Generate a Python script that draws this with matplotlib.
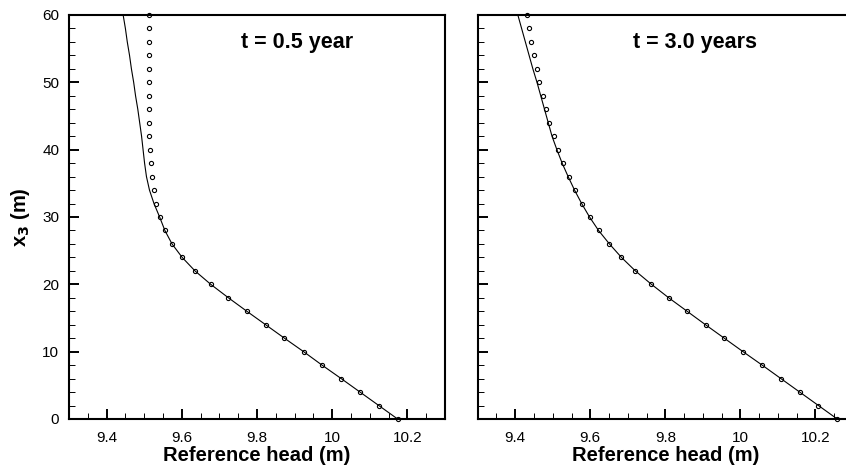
import numpy as np
import matplotlib
matplotlib.use('Agg')
import matplotlib.pyplot as plt
from matplotlib.ticker import MultipleLocator

plt.rcParams['font.family'] = ['Liberation Sans', 'DejaVu Sans']

# depth x3 (m), shared by all series
depth = np.arange(0, 62, 2)

# t = 0.5 year
circ_05 = [10.174, 10.124, 10.074, 10.024, 9.973, 9.924, 9.873, 9.823, 9.773, 9.724,
           9.677, 9.635, 9.601, 9.574, 9.554, 9.541, 9.532, 9.525, 9.521, 9.518,
           9.516, 9.514, 9.514, 9.514, 9.514, 9.514, 9.514, 9.514, 9.514, 9.514, 9.514]
line_05 = [10.174, 10.124, 10.074, 10.024, 9.973, 9.924, 9.873, 9.823, 9.773, 9.724,
           9.677, 9.635, 9.601, 9.574, 9.555, 9.541, 9.526, 9.514, 9.506, 9.501,
           9.497, 9.493, 9.488, 9.483, 9.477, 9.472, 9.466, 9.461, 9.455, 9.450, 9.444]

# t = 3.0 years
circ_30 = [10.258, 10.208, 10.158, 10.108, 10.058, 10.007, 9.957, 9.907, 9.858, 9.809,
           9.763, 9.720, 9.683, 9.651, 9.622, 9.598, 9.577, 9.558, 9.542, 9.527,
           9.514, 9.502, 9.491, 9.482, 9.473, 9.464, 9.457, 9.450, 9.443, 9.437, 9.431]
line_30 = [10.258, 10.208, 10.158, 10.108, 10.058, 10.007, 9.957, 9.907, 9.858, 9.809,
           9.763, 9.720, 9.683, 9.651, 9.622, 9.598, 9.577, 9.558, 9.541, 9.525,
           9.511, 9.498, 9.488, 9.478, 9.468, 9.458, 9.447, 9.437, 9.427, 9.417, 9.407]

panels = [
    (circ_05, line_05, 't = 0.5 year'),
    (circ_30, line_30, 't = 3.0 years'),
]

fig = plt.figure(figsize=(8.46, 4.72), dpi=100)
W, H = 846, 472
boxes = [(69, 445), (477.7, 853)]
y_bot, y_top = 419, 15

for i, ((circ, line, title), (x0, x1)) in enumerate(zip(panels, boxes)):
    ax = fig.add_axes([x0 / W, (H - y_bot) / H, (x1 - x0) / W, (y_bot - y_top) / H])
    ax.plot(line, depth, color='black', lw=0.8, zorder=2)
    ax.plot(circ, depth, linestyle='none', marker='o', ms=3.0, mfc='none',
            mec='black', mew=0.8, zorder=3, clip_on=False)
    ax.set_xlim(9.3, 10.3)
    ax.set_ylim(0, 60)
    ax.xaxis.set_minor_locator(MultipleLocator(0.05))
    ax.yaxis.set_major_locator(MultipleLocator(10))
    ax.yaxis.set_minor_locator(MultipleLocator(2))
    ax.set_xticks([9.4, 9.6, 9.8, 10.0, 10.2])
    ax.set_xticklabels(['9.4', '9.6', '9.8', '10', '10.2'])
    ax.tick_params(which='major', direction='in', length=7.5, width=1.4,
                   labelsize=11, pad=7, top=False, right=False)
    ax.tick_params(axis='x', which='major', pad=9)
    ax.tick_params(which='minor', direction='in', length=4.5, width=0.7,
                   top=False, right=False)
    for s in ax.spines.values():
        s.set_linewidth(1.5)
    ax.set_xlabel('Reference head (m)', fontsize=14.5, fontweight='bold')
    ax.xaxis.set_label_coords(0.5, -0.067)
    if i == 0:
        ax.set_ylabel(r'x$_\mathbf{3}$ (m)', fontsize=14.5, fontweight='bold')
        ax.yaxis.set_label_coords(-0.098, 0.5)
    else:
        ax.tick_params(axis='y', labelleft=False)
    cx = 297.5 if i == 0 else 694.5
    ax.text((cx - x0) / (x1 - x0), (y_bot - 43) / (y_bot - y_top), title,
            transform=ax.transAxes, ha='center', va='center',
            fontsize=15.5, fontweight='bold')

fig.savefig('out.png', dpi=100)
